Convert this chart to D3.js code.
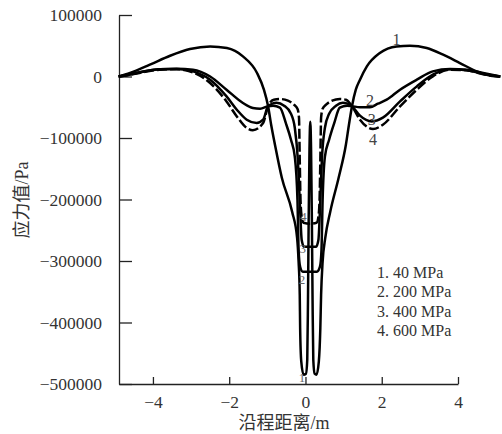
<!DOCTYPE html>
<html>
<head>
<meta charset="utf-8">
<script src="https://cdn.jsdelivr.net/npm/d3@7"></script>
<style>
  html, body { margin: 0; padding: 0; background: #fff; }
  svg { display: block; }
  text { font-family: "Liberation Serif", "Noto Sans CJK SC", serif; }
</style>
</head>
<body>
<svg id="chart" width="502" height="434"></svg>
<script>
// ---------------- data ----------------
const seriesNames = ["1. 40 MPa", "2. 200 MPa", "3. 400 MPa", "4. 600 MPa"];

const x1 = [-4.90,-4.60,-4.08,-3.55,-3.03,-2.50,-2.06,-1.64,-1.27,-1.09,-0.98,-0.90,-0.80,-0.62,-0.35,-0.22,-0.18,-0.15,-0.14,-0.11,-0.05,0.013,0.047,0.066,0.084,0.105,0.126,0.147,0.168,0.186,0.205,0.240,0.29,0.35,0.39,0.41,0.45,0.52,0.65,0.87,1.06,1.14,1.22,1.32,1.43,1.61,1.95,2.39,2.74,3.18,3.61,4.05,4.49,4.85,5.11];
const y1 = [0,5700,19200,33800,44700,48900,46300,32700,5700,-21500,-48300,-78400,-110900,-164600,-219900,-262100,-301100,-354800,-408500,-463700,-484800,-483200,-460400,-362900,-232800,-119000,-73500,-119000,-232800,-362900,-460400,-483200,-484800,-463700,-408500,-354800,-301100,-262100,-219900,-164600,-110900,-78400,-48300,-21500,-5200,16400,38200,48900,50100,46300,35400,21900,8300,1300,0];

const x2 = [-4.90,-4.60,-4.26,-3.82,-3.38,-2.95,-2.50,-2.07,-1.64,-1.38,-1.19,-0.98,-0.85,-0.67,-0.51,-0.38,-0.28,-0.21,-0.18,-0.14,-0.07,0.12,0.30,0.38,0.42,0.45,0.51,0.62,0.75,0.90,1.09,1.22,1.43,1.69,1.90,2.13,2.48,2.92,3.34,3.79,4.23,4.66,5.11];
const y2 = [0,3700,8300,11900,12700,11100,0,-21500,-43100,-51200,-52400,-48300,-47500,-50700,-76700,-102800,-130400,-200300,-281600,-309300,-317400,-317400,-317400,-309300,-281600,-200300,-130400,-102800,-76700,-50700,-47500,-48300,-49900,-49900,-44200,-37700,-21500,-5200,8300,12200,11100,5700,0];

const x3 = [-4.90,-4.60,-4.26,-3.82,-3.38,-2.95,-2.50,-2.07,-1.80,-1.54,-1.28,-1.11,-0.98,-0.76,-0.56,-0.38,-0.28,-0.20,-0.14,-0.10,-0.04,0.12,0.28,0.34,0.38,0.43,0.51,0.62,0.80,0.98,1.22,1.43,1.74,2.03,2.48,2.92,3.34,3.79,4.23,4.66,5.11];
const y3 = [0,3300,7800,11900,12200,8300,-5200,-32400,-54000,-70200,-75600,-70200,-48300,-42600,-47500,-60500,-83300,-135300,-216600,-265400,-276700,-276700,-276700,-265400,-216600,-135300,-83300,-60500,-47500,-42600,-48300,-63700,-73000,-67000,-40500,-16100,2900,11900,10200,4600,0];

const x4 = [-4.90,-4.60,-4.26,-3.82,-3.38,-2.95,-2.50,-2.07,-1.80,-1.54,-1.38,-1.11,-0.98,-0.83,-0.67,-0.46,-0.30,-0.21,-0.17,-0.15,-0.13,-0.10,-0.05,0.12,0.29,0.34,0.37,0.39,0.41,0.45,0.54,0.70,0.90,1.06,1.22,1.43,1.77,2.03,2.48,2.92,3.34,3.79,4.23,4.66,5.11];
const y4 = [0,2900,7000,11100,11900,6700,-10600,-40500,-64900,-83700,-87300,-75600,-48300,-37700,-36600,-39300,-45900,-52400,-67000,-135300,-200300,-228000,-237700,-239300,-237700,-228000,-200300,-135300,-67000,-52400,-45900,-39300,-36600,-37700,-48300,-70200,-85400,-78400,-48600,-21500,200,11100,10200,3700,0];

const xTickValues = [-4, -2, 0, 2, 4];
const xTickLabels = ["\u22124", "\u22122", "0", "2", "4"];
const yTickValues = [100000, 0, -100000, -200000, -300000, -400000, -500000];
const yTickLabels = ["100000", "0", "\u2212100000", "\u2212200000", "\u2212300000", "\u2212400000", "\u2212500000"];

// curve number labels (anchored in data units)
const curveLabelText = ["1", "2", "3", "4"];
const curveLabelX = [2.39, 1.69, 1.74, 1.77];
const curveLabelY = [50500, -48300, -78400, -111000];
const innerLabelText = ["4", "3", "2", "1"];
const innerLabelX = [-0.05, -0.07, -0.09, -0.09];
const innerLabelY = [-234500, -286500, -336900, -496000];

const xTitle = "沿程距离/m";
const yTitle = "应力值/Pa";

// ---------------- drawing ----------------
const svg = d3.select("#chart");
const x = d3.scaleLinear().domain([-4.89, 4.0]).range([119, 458]);
const y = d3.scaleLinear().domain([-500000, 100000]).range([384, 15]);

const axisColor = "#222";

// y axis
const yAxis = svg.append("g")
  .attr("transform", `translate(${x.range()[0]},0)`)
  .call(d3.axisLeft(y)
    .tickValues(yTickValues)
    .tickFormat((d, i) => yTickLabels[i])
    .tickSizeInner(-13).tickSizeOuter(0).tickPadding(17));
// x axis
const xAxis = svg.append("g")
  .attr("transform", `translate(0,${y.range()[0]})`)
  .call(d3.axisBottom(x)
    .tickValues(xTickValues)
    .tickFormat((d, i) => xTickLabels[i])
    .tickSizeInner(-7).tickSizeOuter(0).tickPadding(12));

[yAxis, xAxis].forEach(g => {
  g.select(".domain").attr("stroke", axisColor).attr("stroke-width", 1.3);
  g.selectAll(".tick line").attr("stroke", axisColor).attr("stroke-width", 1.3);
  g.selectAll(".tick text")
    .attr("fill", "#333")
    .style("font-size", "17.5px")
    .style("font-family", '"Liberation Serif", serif');
});

// series
const series = [
  { xs: x1, ys: y1, dash: null },
  { xs: x2, ys: y2, dash: null },
  { xs: x3, ys: y3, dash: null },
  { xs: x4, ys: y4, dash: "10,3" }
];
const line = d3.line()
  .x(d => x(d[0]))
  .y(d => y(d[1]))
  .curve(d3.curveMonotoneX);

svg.append("g").selectAll("path")
  .data(series)
  .join("path")
  .attr("d", s => line(s.xs.map((v, i) => [v, s.ys[i]])))
  .attr("fill", "none")
  .attr("stroke", "#000")
  .attr("stroke-width", 2.5)
  .attr("stroke-linejoin", "round")
  .attr("stroke-dasharray", s => s.dash);

// curve number labels
svg.append("g").selectAll("text")
  .data(curveLabelText)
  .join("text")
  .attr("x", (d, i) => x(curveLabelX[i]))
  .attr("y", (d, i) => y(curveLabelY[i]))
  .attr("text-anchor", "middle")
  .attr("fill", "#444")
  .style("font-size", "16px")
  .text(d => d);

svg.append("g").selectAll("text")
  .data(innerLabelText)
  .join("text")
  .attr("x", (d, i) => x(innerLabelX[i]))
  .attr("y", (d, i) => y(innerLabelY[i]))
  .attr("text-anchor", "middle")
  .attr("fill", "#666")
  .style("font-size", "13px")
  .text(d => d);

// legend text
svg.append("g").selectAll("text")
  .data(seriesNames)
  .join("text")
  .attr("x", 377)
  .attr("y", (d, i) => 278 + i * 19.3)
  .attr("fill", "#333")
  .style("font-size", "16px")
  .text(d => d);

// axis titles
svg.append("text")
  .attr("x", 284).attr("y", 429)
  .attr("text-anchor", "middle")
  .attr("fill", "#333")
  .style("font-size", "18px")
  .text(xTitle);

svg.append("text")
  .attr("transform", "translate(28,200) rotate(-90)")
  .attr("text-anchor", "middle")
  .attr("fill", "#333")
  .style("font-size", "18px")
  .text(yTitle);
</script>
</body>
</html>
